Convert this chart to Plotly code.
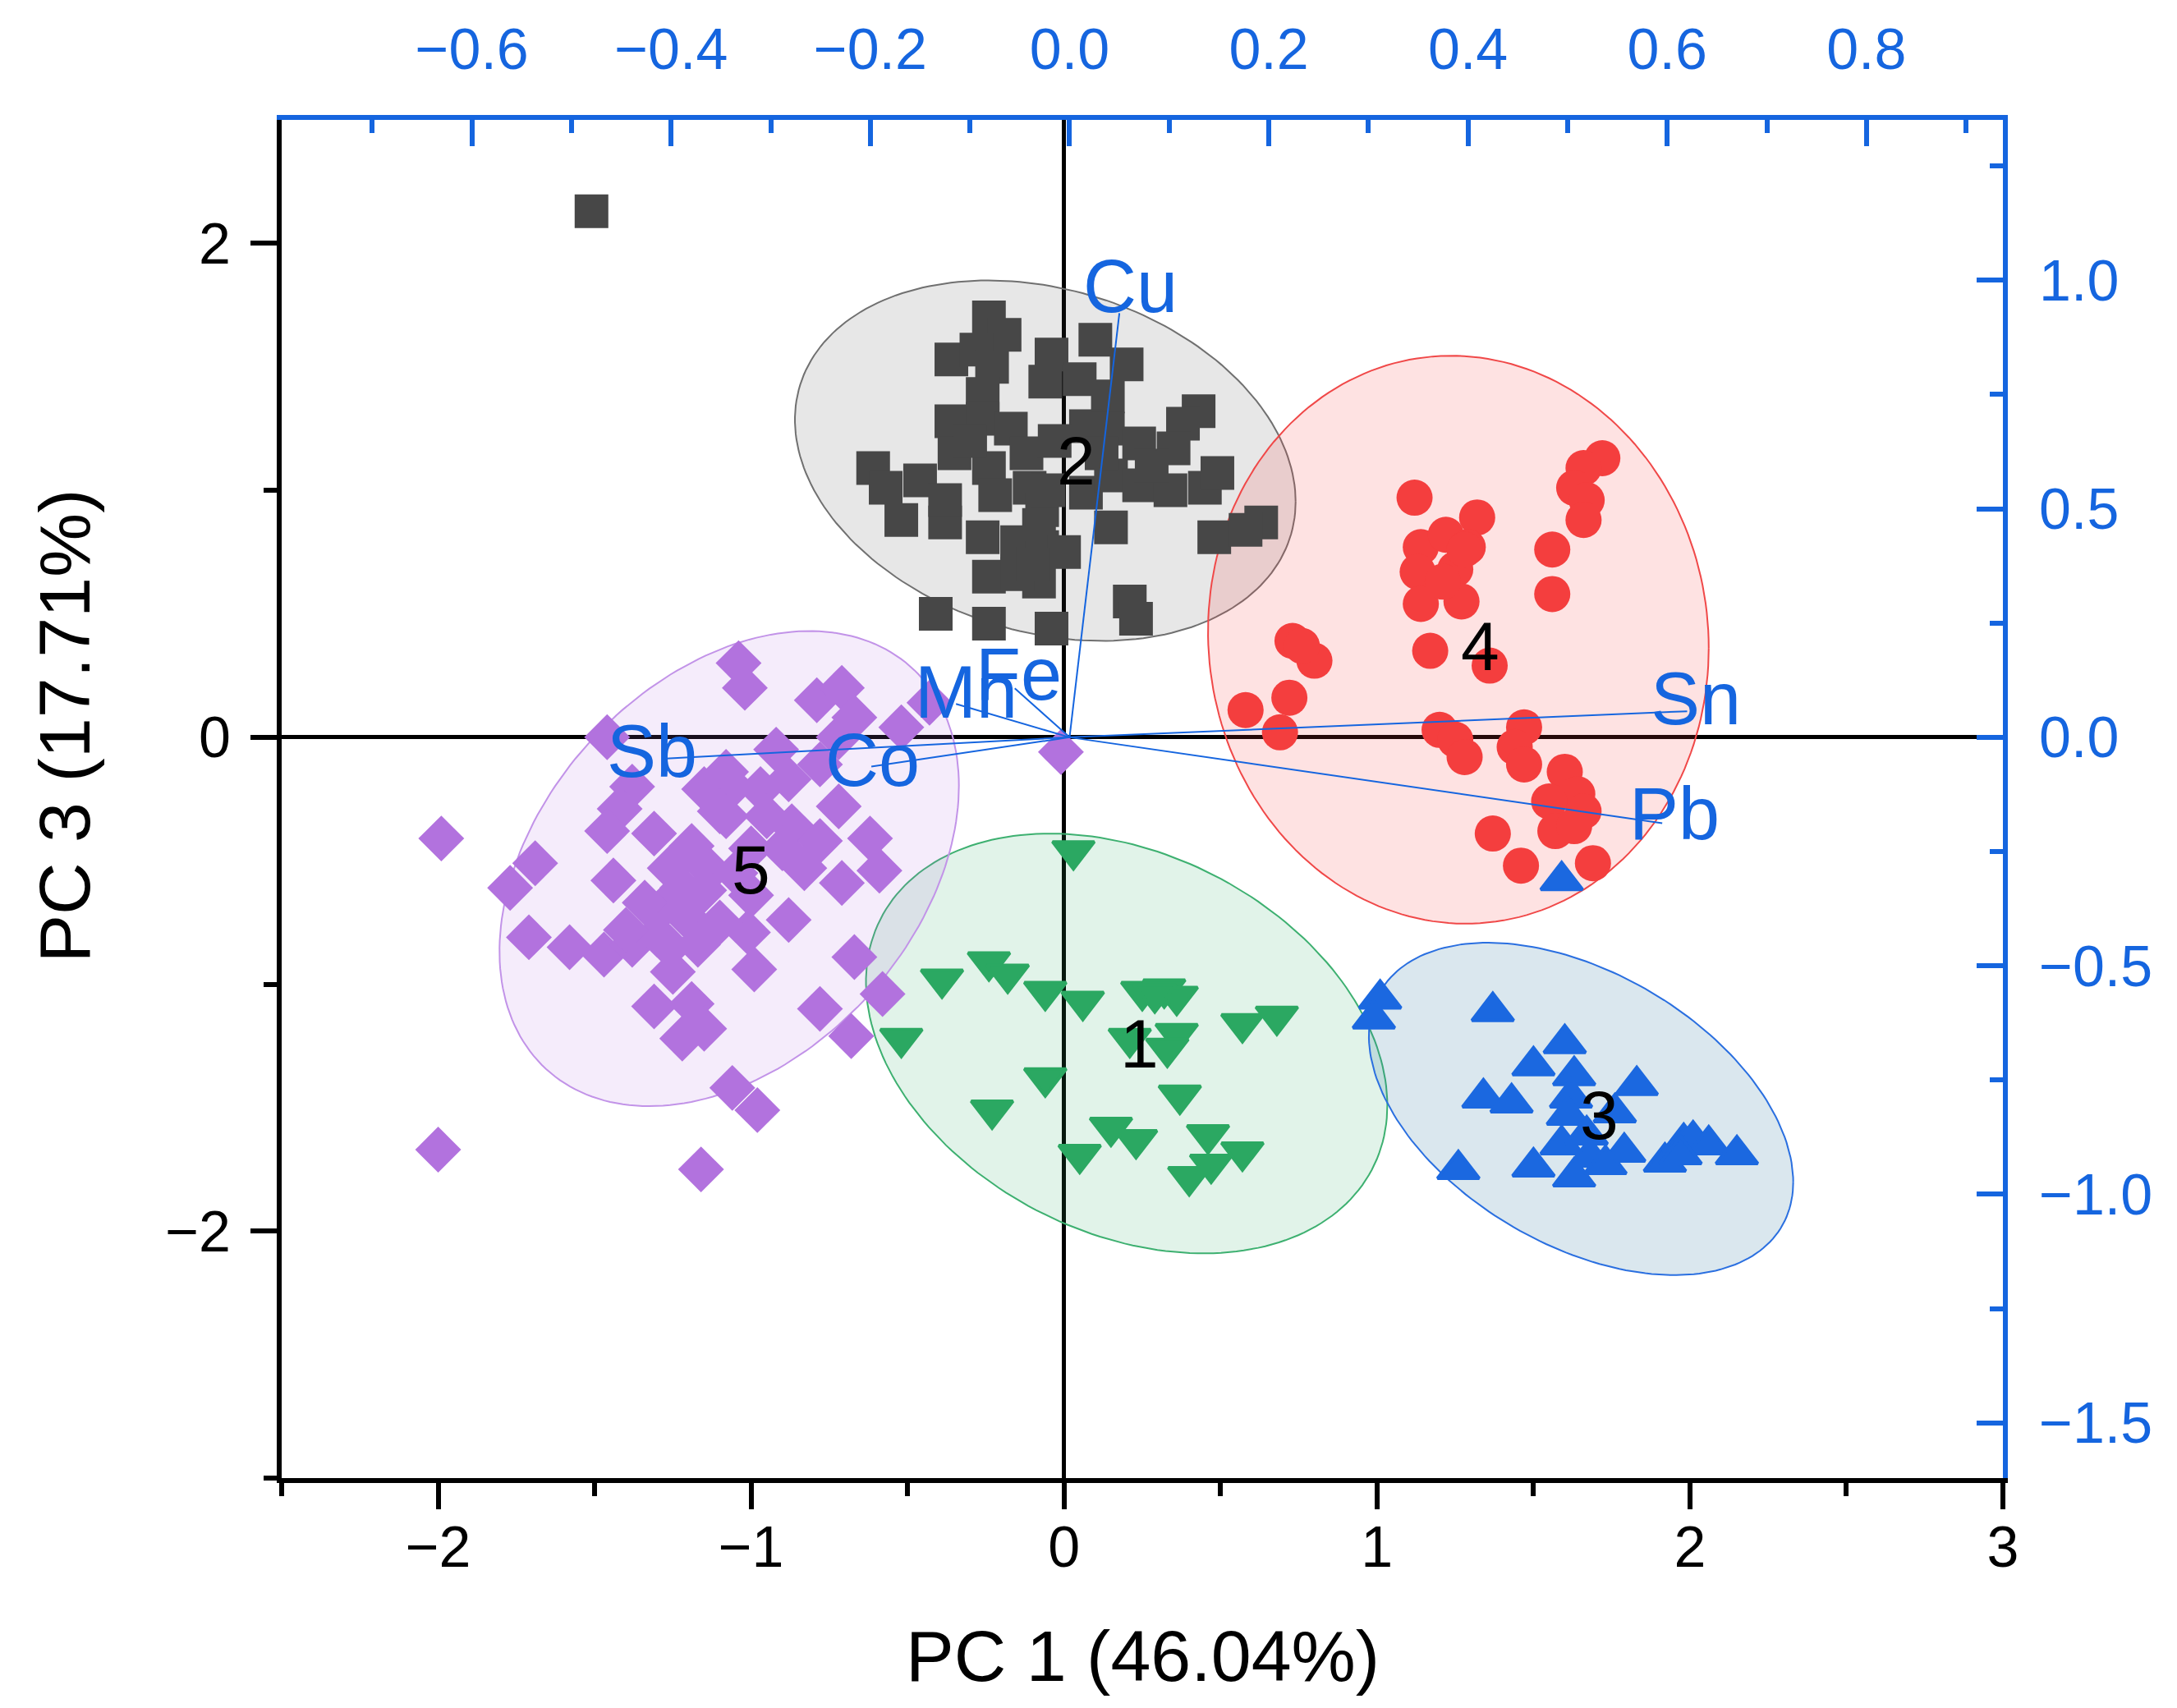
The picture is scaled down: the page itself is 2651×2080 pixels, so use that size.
import numpy as np
import plotly.graph_objects as go

# ---- scores (PC1, PC3), one list pair per cluster ----
g1_x = [0.03, -0.39, -0.24, -0.18, -0.06, 0.06, 0.25, 0.32, 0.36, 0.57, 0.68, 0.21, 0.36, 0.33,
        -0.52, -0.06, -0.23, 0.37, 0.15, 0.23, 0.05, 0.46, 0.57, 0.47, 0.40, 0.29]
g1_y = [-0.46, -0.98, -0.91, -0.96, -1.03, -1.07, -1.03, -1.02, -1.05, -1.16, -1.13, -1.22, -1.20, -1.26,
        -1.22, -1.38, -1.51, -1.45, -1.58, -1.63, -1.69, -1.61, -1.68, -1.73, -1.78, -1.04]

g2_x = [-1.51, -0.24, -0.19, -0.36, -0.28, -0.23, -0.04, 0.10, 0.20, -0.06, 0.05, 0.14, -0.26, -0.36,
        -0.26, -0.17, 0.07, 0.14, 0.43, 0.38, 0.24, 0.35, -0.61, -0.57, -0.46, -0.35, -0.24, -0.12,
        -0.52, -0.38, -0.22, -0.11, 0.07, 0.15, 0.24, 0.34, 0.45, 0.49, 0.15, 0.48, 0.63, 0.58,
        -0.26, -0.15, -0.07, -0.08, -0.24, -0.08, -0.15, -0.41, -0.24, -0.04, 0.21, 0.23, -0.07, -0.38,
        -0.03, -0.05, 0.00, -0.10, 0.12, -0.30, 0.28]
g2_y = [2.13, 1.70, 1.63, 1.53, 1.57, 1.50, 1.55, 1.61, 1.51, 1.44, 1.45, 1.38, 1.39, 1.28,
        1.29, 1.25, 1.26, 1.25, 1.32, 1.27, 1.19, 1.17, 1.09, 1.01, 1.04, 1.15, 1.09, 1.15,
        0.88, 0.87, 0.98, 1.01, 0.99, 1.06, 1.02, 1.00, 1.01, 1.07, 0.85, 0.81, 0.87, 0.84,
        0.81, 0.79, 0.77, 0.86, 0.65, 0.63, 0.66, 0.50, 0.46, 0.44, 0.55, 0.48, 0.92, 0.96,
        1.20, 1.00, 0.75, 0.70, 1.15, 1.20, 1.10]

g3_x = [1.01, 0.99, 1.37, 1.60, 1.50, 1.34, 1.43, 1.63, 1.62, 1.61, 1.83, 1.76, 1.26, 1.50,
        1.59, 1.63, 1.68, 1.79, 1.73, 1.92, 1.98, 2.01, 2.06, 2.15, 1.97, 1.67, 1.59]
g3_y = [-1.06, -1.14, -1.11, -1.24, -1.33, -1.46, -1.48, -1.37, -1.46, -1.53, -1.41, -1.52, -1.75, -1.74,
        -1.65, -1.78, -1.70, -1.68, -1.73, -1.72, -1.64, -1.63, -1.65, -1.69, -1.69, -1.61, -0.58]

g4_x = [1.12, 1.32, 1.72, 1.66, 1.63, 1.67, 1.66, 1.56, 1.56, 1.14, 1.22, 1.29, 1.13, 1.25,
        1.14, 1.27, 1.21, 1.17, 1.36, 0.73, 0.80, 0.76, 0.72, 0.58, 0.69, 1.20, 1.25, 1.28,
        1.47, 1.44, 1.47, 1.60, 1.64, 1.55, 1.66, 1.57, 1.63, 1.37, 1.46, 1.69, 1.28]
g4_y = [0.97, 0.89, 1.13, 1.09, 1.01, 0.96, 0.88, 0.76, 0.58, 0.77, 0.82, 0.77, 0.67, 0.68,
        0.54, 0.55, 0.63, 0.35, 0.29, 0.39, 0.31, 0.37, 0.16, 0.11, 0.02, 0.03, -0.01, -0.08,
        0.04, -0.04, -0.11, -0.14, -0.23, -0.26, -0.30, -0.38, -0.36, -0.39, -0.52, -0.51, 0.76]

g5_x = [-1.04, -1.02, -0.79, -0.71, -0.67, -0.52, -0.43, -1.46, -0.92, -0.78, -0.72, -1.38, -1.42, -1.46,
        -1.15, -1.06, -0.97, -1.08, -0.95, -0.87, -0.72, -0.78, -0.62, -0.59, -0.71, -0.83, -1.19, -1.26,
        -1.22, -1.13, -1.29, -1.19, -1.00, -0.88, -1.01, -0.99, -1.69, -1.77, -1.44, -1.71, -1.58, -1.47,
        -1.38, -1.26, -1.17, -1.31, -1.19, -1.15, -1.22, -0.67, -0.58, -0.78, -0.68, -1.06, -0.98, -1.99,
        -2.00, -1.16, -1.34, -1.08, -0.88, -1.31, -0.01, -1.10, -1.00, -1.15, -1.05, -0.90, -1.30, -1.40,
        -1.10, -1.25]
g5_y = [0.30, 0.20, 0.15, 0.20, 0.08, 0.04, 0.14, 0.00, -0.05, -0.11, 0.00, -0.20, -0.29, -0.38,
        -0.21, -0.20, -0.21, -0.32, -0.32, -0.36, -0.28, -0.42, -0.41, -0.54, -0.59, -0.53, -0.44, -0.53,
        -0.61, -0.54, -0.70, -0.75, -0.64, -0.74, -0.79, -0.94, -0.51, -0.61, -0.58, -0.81, -0.85, -0.88,
        -0.84, -0.85, -0.84, -1.09, -1.08, -1.18, -1.22, -0.89, -1.04, -1.10, -1.21, -1.42, -1.51, -0.41,
        -1.67, -1.75, -0.67, -0.14, -0.17, -0.39, -0.06, -0.30, -0.45, -0.62, -0.55, -0.45, -0.80, -0.78,
        -0.75, -0.95]

# cluster label positions (text "1".."5")
cluster_names = ["1", "2", "3", "4", "5"]
cluster_lx = [0.24, 0.04, 1.71, 1.33, -1.00]
cluster_ly = [-1.24, 1.12, -1.53, 0.37, -0.535]

# confidence ellipses: centre, half extents in x / y, phase between x and y
ell_cx = [0.20, -0.06, 1.652, 1.26, -1.07]
ell_cy = [-1.24, 1.12, -1.505, 0.395, -0.532]
ell_hx = [0.833, 0.80, 0.678, 0.80, 0.734]
ell_hy = [0.85, 0.73, 0.673, 1.15, 0.962]
ell_ph = [1.87, 1.80, 2.026, 1.60, 1.215]

# loadings (top / right axes)
load_names = ["Cu", "Sn", "Pb", "Sb", "Co", "Mn", "Fe"]
load_x = [0.050, 0.620, 0.595, -0.409, -0.199, -0.114, -0.055]
load_y = [0.928, 0.057, -0.188, -0.047, -0.064, 0.073, 0.107]
lab_x = [0.061, 0.629, 0.607, -0.419, -0.198, -0.104, -0.051]
lab_y = [0.986, 0.084, -0.167, -0.030, -0.050, 0.099, 0.138]

BLUE = "#1565DF"
FONT = "Liberation Sans"

groups = [
    (g1_x, g1_y, "triangle-down", "#2BA862", 44, "rgba(43,168,98,0.14)", "#3DB070"),
    (g2_x, g2_y, "square", "#474747", 41, "rgba(70,70,70,0.13)", "#707070"),
    (g3_x, g3_y, "triangle-up", "#1B68E0", 44, "rgba(60,130,165,0.19)", "#2A6FE0"),
    (g4_x, g4_y, "circle", "#F43E3E", 44, "rgba(245,60,60,0.15)", "#F04848"),
    (g5_x, g5_y, "diamond", "#B272DE", 43, "rgba(178,112,222,0.13)", "#C293E8"),
]

fig = go.Figure()

t = np.linspace(0, 2 * np.pi, 200)
for i, g in enumerate(groups):
    ex = ell_cx[i] + ell_hx[i] * np.cos(t)
    ey = ell_cy[i] + ell_hy[i] * np.cos(t + ell_ph[i])
    fig.add_trace(go.Scatter(x=ex, y=ey, mode="lines", fill="toself",
                             fillcolor=g[5], line=dict(color=g[6], width=2),
                             hoverinfo="skip", showlegend=False))

for i, g in enumerate(groups):
    lw = 4 if "triangle" in g[2] else 0
    fig.add_trace(go.Scatter(x=g[0], y=g[1], mode="markers", showlegend=False,
                             marker=dict(symbol=g[2], size=g[4], color=g[3],
                                         line=dict(color=g[3], width=lw))))

# loading vectors
for i in range(len(load_names)):
    fig.add_trace(go.Scatter(x=[0, load_x[i]], y=[0, load_y[i]], mode="lines",
                             xaxis="x2", yaxis="y2", showlegend=False,
                             line=dict(color=BLUE, width=2)))
    fig.add_annotation(x=lab_x[i], y=lab_y[i], xref="x2", yref="y2", text=load_names[i],
                       showarrow=False, font=dict(family=FONT, size=90, color=BLUE))

for i in range(len(cluster_names)):
    fig.add_annotation(x=cluster_lx[i], y=cluster_ly[i], text=cluster_names[i],
                       showarrow=False, font=dict(family=FONT, size=84, color="black"))

fig.add_annotation(x=0.5, y=-0.131, xref="paper", yref="paper", text="PC 1 (46.04%)",
                   showarrow=False, yanchor="middle",
                   font=dict(family=FONT, size=88, color="black"))
fig.add_annotation(x=-0.126, y=0.554, xref="paper", yref="paper", text="PC 3 (17.71%)",
                   showarrow=False, textangle=-90, xanchor="center",
                   font=dict(family=FONT, size=88, color="black"))

tickfont_k = dict(family=FONT, size=70, color="black")
tickfont_b = dict(family=FONT, size=70, color=BLUE)

fig.update_layout(
    width=2651, height=2080, autosize=False,
    margin=dict(l=335, r=220, t=138, b=288, autoexpand=False),
    plot_bgcolor="white", paper_bgcolor="white",
    showlegend=False,
    xaxis=dict(range=[-2.5, 3], tick0=0, dtick=1, ticks="outside", ticklen=32, tickwidth=6,
               tickcolor="black", showline=True, linecolor="black", linewidth=6,
               showgrid=False, zeroline=True, zerolinecolor="black", zerolinewidth=5,
               tickfont=tickfont_k, ticklabelstandoff=-14, automargin=False,
               minor=dict(dtick=0.5, ticklen=16, tickwidth=6, ticks="outside", tickcolor="black")),
    yaxis=dict(range=[-3, 2.5], tick0=0, dtick=2, ticks="outside", ticklen=32, tickwidth=6,
               tickcolor="black", showline=True, linecolor="black", linewidth=6,
               showgrid=False, zeroline=True, zerolinecolor="black", zerolinewidth=5,
               tickfont=tickfont_k, ticklabelstandoff=10, automargin=False,
               minor=dict(dtick=1, ticklen=16, tickwidth=6, ticks="outside", tickcolor="black")),
    xaxis2=dict(overlaying="x", side="top", anchor="y", range=[-0.791, 0.937], tick0=0, dtick=0.2,
                tickformat=".1f", ticks="inside", ticklen=32, tickwidth=6, tickcolor=BLUE,
                showline=True, linecolor=BLUE, linewidth=6, showgrid=False, zeroline=False,
                tickfont=tickfont_b, ticklabelstandoff=28, automargin=False,
                minor=dict(dtick=0.1, ticklen=16, tickwidth=6, ticks="inside", tickcolor=BLUE)),
    yaxis2=dict(overlaying="y", side="right", anchor="x", range=[-1.621, 1.351], tick0=0, dtick=0.5,
                tickformat=".1f", ticks="inside", ticklen=32, tickwidth=6, tickcolor=BLUE,
                showline=True, linecolor=BLUE, linewidth=6, showgrid=False, zeroline=False,
                tickfont=tickfont_b, ticklabelstandoff=24, automargin=False,
                minor=dict(dtick=0.25, ticklen=16, tickwidth=6, ticks="inside", tickcolor=BLUE)),
)

fig.write_html("out.html")
